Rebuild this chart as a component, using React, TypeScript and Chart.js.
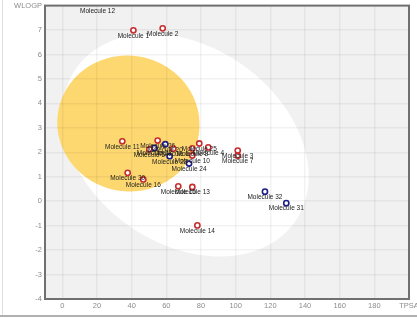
import React, { useEffect, useRef } from 'react';
import { Chart, registerables } from 'chart.js';

Chart.register(...registerables);

// ---- data ----
const moleculeNames = [
  'Molecule 12', 'Molecule 1', 'Molecule 2', 'Molecule 11', 'Molecule 26',
  'Molecule 20', 'Molecule 21', 'Molecule 5', 'Molecule 6', 'Molecule 22',
  'Molecule 8', 'Molecule 25', 'Molecule 4', 'Molecule 10', 'Molecule 24',
  'Molecule 3', 'Molecule 7', 'Molecule 30', 'Molecule 16', 'Molecule 15',
  'Molecule 13', 'Molecule 14', 'Molecule 32', 'Molecule 31',
];
const tpsaValues = [
  20.3, 41.0, 57.9, 34.6, 55.0,
  59.4, 53.1, 50.2, 64.0, 61.9,
  75.0, 79.0, 84.2, 75.0, 73.1,
  101.2, 101.2, 37.7, 46.7, 66.9,
  75.0, 77.9, 116.9, 129.2,
];
const wlogpValues = [
  8.2, 6.99, 7.07, 2.45, 2.48,
  2.33, 2.18, 2.12, 2.15, 1.84,
  2.16, 2.36, 2.2, 1.87, 1.54,
  2.07, 1.86, 1.16, 0.89, 0.61,
  0.58, -0.99, 0.39, -0.08,
];
// true = P-gp substrate (blue), false = non-substrate (red)
const pgpSubstrate = [
  false, false, false, false, false,
  true, true, false, false, true,
  false, false, false, false, true,
  false, false, false, false, false,
  false, false, true, true,
];
const xTickValues = [0, 20, 40, 60, 80, 100, 120, 140, 160, 180, 200];
const yTickValues = [-4, -3, -2, -1, 0, 1, 2, 3, 4, 5, 6, 7, 8];
const xAxisTitle = 'TPSA';
const yAxisTitle = 'WLOGP';
// BOILED-Egg ellipses (TPSA, WLOGP space)
const whiteEllipse = { cx: 71.051, cy: 2.292, a: 71.0405, b: 4.37, angleDeg: -1.031325 };
const yolkEllipse = { cx: 38.117, cy: 3.177, a: 41.0305, b: 2.7785, angleDeg: -0.066921 };

const FONT = '"Liberation Sans", Arial, sans-serif';

function ellipsePath(chart: any, e: any) {
  const xs = chart.scales.x;
  const ys = chart.scales.y;
  const ctx = chart.ctx;
  const th = (e.angleDeg * Math.PI) / 180;
  ctx.beginPath();
  for (let i = 0; i <= 360; i++) {
    const t = (i / 360) * Math.PI * 2;
    const dx = e.a * Math.cos(t);
    const dy = e.b * Math.sin(t);
    const x = e.cx + dx * Math.cos(th) - dy * Math.sin(th);
    const y = e.cy + dx * Math.sin(th) + dy * Math.cos(th);
    const px = xs.getPixelForValue(x);
    const py = ys.getPixelForValue(y);
    if (i === 0) ctx.moveTo(px, py);
    else ctx.lineTo(px, py);
  }
  ctx.closePath();
}

const eggPlugin = {
  id: 'egg',
  beforeDraw(chart: any) {
    const { ctx, chartArea } = chart;
    ctx.save();
    ctx.fillStyle = '#f1f1f1';
    ctx.fillRect(chartArea.left, chartArea.top, chartArea.right - chartArea.left, chartArea.bottom - chartArea.top);
    ctx.beginPath();
    ctx.rect(chartArea.left, chartArea.top, chartArea.right - chartArea.left, chartArea.bottom - chartArea.top);
    ctx.clip();
    ellipsePath(chart, whiteEllipse);
    ctx.fillStyle = '#ffffff';
    ctx.fill();
    ellipsePath(chart, yolkEllipse);
    ctx.fillStyle = 'rgb(253, 216, 112)';
    ctx.fill();
    ctx.restore();
  },
  afterDatasetsDraw(chart: any) {
    const { ctx, chartArea } = chart;
    ctx.save();
    ctx.font = `6.5px ${FONT}`;
    ctx.fillStyle = '#1c1c1c';
    ctx.textAlign = 'center';
    ctx.textBaseline = 'middle';
    chart.data.datasets.forEach((ds: any, di: number) => {
      const meta = chart.getDatasetMeta(di);
      meta.data.forEach((pt: any, i: number) => {
        const y = Math.max(pt.y + 5.5, chartArea.top + 5.5);
        ctx.fillText(ds.names[i], pt.x, y);
      });
    });
    ctx.restore();
  },
  afterDraw(chart: any) {
    const { ctx, chartArea } = chart;
    ctx.save();
    ctx.strokeStyle = '#707070';
    ctx.lineWidth = 2;
    ctx.strokeRect(chartArea.left, chartArea.top, chartArea.right - chartArea.left, chartArea.bottom - chartArea.top);
    ctx.restore();
  },
};

function buildDataset(sub: boolean, color: string, label: string) {
  const idx = moleculeNames.map((_, i) => i).filter((i) => pgpSubstrate[i] === sub);
  return {
    label,
    names: idx.map((i) => moleculeNames[i]),
    data: idx.map((i) => ({ x: tpsaValues[i], y: wlogpValues[i] })),
    pointRadius: 2.6,
    pointBorderWidth: 1.6,
    pointBackgroundColor: '#ffffff',
    pointBorderColor: color,
    showLine: false,
    clip: 0,
  };
}

export default function App() {
  const ref = useRef<HTMLCanvasElement>(null);
  useEffect(() => {
    document.body.style.margin = '0';
    const tickFont = { family: FONT, size: 7.5 };
    const chart = new Chart(ref.current as HTMLCanvasElement, {
      type: 'scatter',
      data: {
        datasets: [
          buildDataset(false, '#c62f2f', 'PGP-') as any,
          buildDataset(true, '#1d1d86', 'PGP+') as any,
        ],
      },
      options: {
        animation: false,
        responsive: false,
        layout: { padding: { top: 5, right: 8, left: 0, bottom: 0 } },
        plugins: { legend: { display: false }, tooltip: { enabled: false } },
        scales: {
          x: {
            type: 'linear',
            min: -10,
            max: 200,
            afterBuildTicks: (s: any) => {
              s.ticks = xTickValues.map((v) => ({ value: v }));
            },
            afterFit: (s: any) => {
              s.height = 19;
              s.paddingLeft = 0;
              s.paddingRight = 0;
            },
            ticks: {
              callback: (v: any) => (v === 200 ? xAxisTitle : String(v)),
              color: '#8c8c8c',
              font: tickFont,
              padding: 2,
              maxRotation: 0,
              autoSkip: false,
            },
            grid: { color: 'rgba(0,0,0,0.05)', lineWidth: 1.5, drawTicks: false },
            border: { display: false },
          },
          y: {
            type: 'linear',
            min: -4,
            max: 8,
            afterBuildTicks: (s: any) => {
              s.ticks = yTickValues.map((v) => ({ value: v }));
            },
            afterFit: (s: any) => {
              s.width = 45;
              s.paddingTop = 0;
              s.paddingBottom = 0;
            },
            ticks: {
              callback: (v: any) => (v === 8 ? yAxisTitle : String(v)),
              color: '#8c8c8c',
              font: tickFont,
              padding: 3,
              autoSkip: false,
            },
            grid: { color: 'rgba(0,0,0,0.05)', lineWidth: 1.5, drawTicks: false },
            border: { display: false },
          },
        },
      },
      plugins: [eggPlugin as any],
    });
    return () => chart.destroy();
  }, []);

  return (
    <div style={{ position: 'relative', width: 417, height: 318, background: '#fff', overflow: 'hidden' }}>
      <canvas ref={ref} width={417} height={318} style={{ display: 'block', width: 417, height: 318 }} />
      <div style={{ position: 'absolute', left: 2, top: 0, width: 1, height: 316, background: '#e0e0e0' }} />
      <div style={{ position: 'absolute', left: 0, top: 315, width: 417, height: 2, background: '#b0b0b0' }} />
    </div>
  );
}
